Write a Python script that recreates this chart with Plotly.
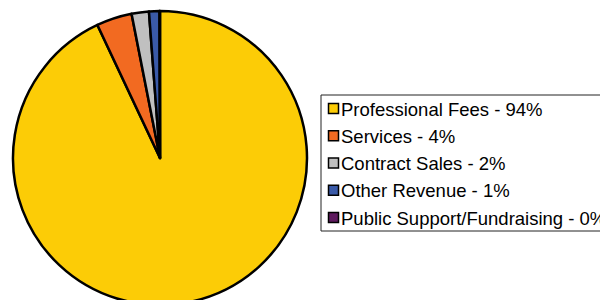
import plotly.graph_objects as go

categories = ["Professional Fees - 94%", "Services - 4%", "Contract Sales - 2%",
              "Other Revenue - 1%", "Public Support/Fundraising - 0%"]
values = [93.0, 3.9, 1.9, 1.15, 0.05]
colors = ["#FCCC06", "#F26A21", "#C0C0C0", "#3A5AA8", "#5E1A5E"]

W, H = 608, 300
OFF = 8  # page offset of the plot div
def px(x):
    return (x - OFF) / W
def py(y):
    return 1 - (y - OFF) / H

fig = go.Figure(go.Pie(
    labels=categories, values=values, sort=False, direction="clockwise", rotation=0,
    marker=dict(colors=colors, line=dict(color="black", width=2.5)),
    textinfo="none", hoverinfo="label", showlegend=False,
    domain=dict(x=[px(13), px(307)], y=[0, 1]),
))

shapes = [dict(type="rect", xref="paper", yref="paper",
               x0=px(321), x1=px(640), y0=py(231), y1=py(95),
               line=dict(color="#222222", width=1), fillcolor="white", layer="below")]
annotations = []
row_gap = 27.25
for i, (name, col) in enumerate(zip(categories, colors)):
    top = 103 + i * row_gap
    shapes.append(dict(type="rect", xref="paper", yref="paper",
                       x0=px(328.5), x1=px(338.5), y0=py(top + 10.5), y1=py(top + 0.5),
                       line=dict(color="black", width=1.5), fillcolor=col))
    annotations.append(dict(text=name, xref="paper", yref="paper",
                            x=px(339), y=py(top + 6), xanchor="left", yanchor="middle",
                            showarrow=False,
                            font=dict(family="Liberation Sans, Arial", size=18.5, color="black")))

fig.update_layout(
    width=W, height=H, margin=dict(l=0, r=0, t=0, b=0, autoexpand=False),
    paper_bgcolor="white", plot_bgcolor="white",
    showlegend=False, shapes=shapes, annotations=annotations,
)
fig.write_html("out.html")
